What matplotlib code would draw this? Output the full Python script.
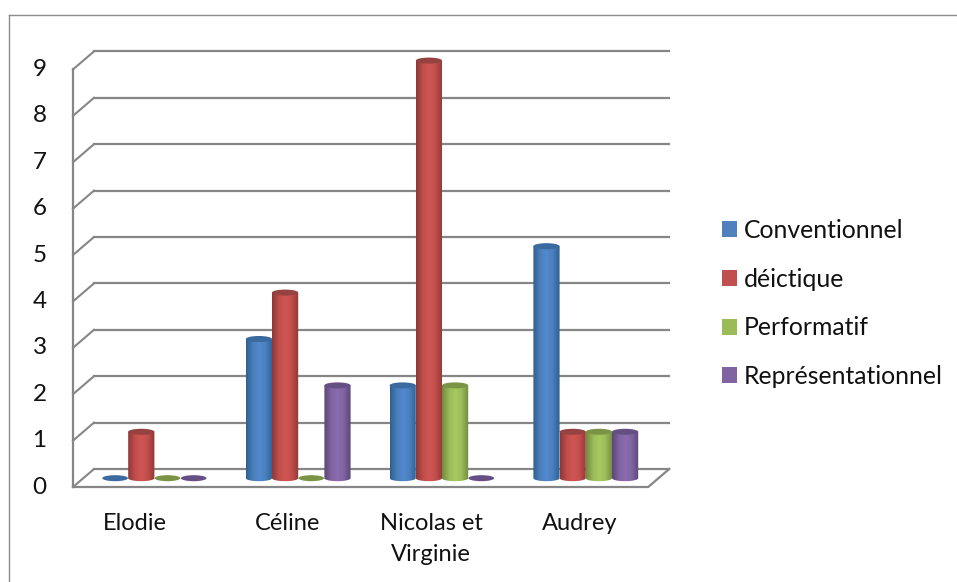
import numpy as np
import matplotlib
matplotlib.use("Agg")
import matplotlib.pyplot as plt
from matplotlib.colors import LinearSegmentedColormap
from matplotlib.lines import Line2D
from matplotlib.patches import Ellipse, PathPatch, Rectangle
from matplotlib.path import Path

plt.rcParams['font.family'] = ['Lato', 'DejaVu Sans']

categories = ["Elodie", "Céline", "Nicolas et\nVirginie", "Audrey"]
series_names = ["Conventionnel", "déictique", "Performatif", "Représentationnel"]
conventionnel = [0, 3, 2, 5]
deictique = [1, 4, 9, 1]
performatif = [0, 0, 2, 1]
representationnel = [0, 2, 0, 1]
series_values = [conventionnel, deictique, performatif, representationnel]
y_ticks = list(range(0, 10))

# colours: legend, dark edge of cylinder, light middle, top ellipse
legend_colors = ["#4F81BD", "#C0504D", "#9BBB59", "#8064A2"]
edge_colors = ["#2F5F8F", "#8C3836", "#71893F", "#5C4776"]
mid_colors = ["#5288CC", "#D05552", "#A6C960", "#8A6CAF"]
top_colors = ["#3A6A9E", "#964240", "#7A9445", "#664F85"]

W, H = 957, 582
GRID = "#868686"
TXT = "#111111"

fig = plt.figure(figsize=(W / 100, H / 100), dpi=100)

# chart frame
fig.add_artist(Line2D([9 / W, 9 / W], [0, 1 - 15 / H], color="#8c8c8c", lw=1))
fig.add_artist(Line2D([9 / W, 1], [1 - 15 / H, 1 - 15 / H], color="#8c8c8c", lw=1))

# plot area: one value = 46.4 px, one category = 143.8 px
px_y = 46.4
px_x = 143.8
depth_x = 21 / px_x
depth_y = 18 / px_y
ymax = 9.6
xmax = 4 + depth_x
ax = fig.add_axes([73 / W, 1 - 487 / H, xmax * px_x / W, ymax * px_y / H])
ax.set_xlim(0, xmax)
ax.set_ylim(0, ymax)
for s in ax.spines.values():
    s.set_visible(False)
ax.patch.set_visible(False)

# walls and grid in fake 3d
for v in y_ticks:
    ax.plot([0, depth_x], [v, v + depth_y], color=GRID, lw=1.5, clip_on=False, zorder=1)
    ax.plot([depth_x, xmax], [v + depth_y, v + depth_y], color=GRID, lw=1.6, clip_on=False, zorder=1)
ax.plot([0, 0], [0, 9], color=GRID, lw=1.6, clip_on=False, zorder=1)
ax.plot([0, 4, xmax], [0, 0, depth_y], color=GRID, lw=1.6, clip_on=False, zorder=1)

# cylinders
bar_w = 26.2 / px_x
group_shift = 0.566
base = 0.19
ell_h = 6 / px_y
ramp = np.interp(np.linspace(0, 1, 256), [0, 0.28, 0.5, 0.72, 1], [0, 0.8, 1, 0.8, 0])[None, :]

for k, vals in enumerate(series_values):
    cmap = LinearSegmentedColormap.from_list("c", [edge_colors[k], mid_colors[k]])
    for i, v in enumerate(vals):
        cx = i + group_shift + (k - 1.5) * bar_w
        z = 3 + k
        if v == 0:
            ax.add_patch(Ellipse((cx, base), bar_w * 0.98, ell_h, fc=top_colors[k], ec="none", zorder=z))
            continue
        t = np.linspace(np.pi, 2 * np.pi, 30)
        xs = cx + bar_w / 2 * np.cos(t)
        low = base + ell_h / 2 * np.sin(t)
        verts = list(zip(xs, low)) + [(cx + bar_w / 2, base + v), (cx - bar_w / 2, base + v), (xs[0], low[0])]
        outline = PathPatch(Path(verts), transform=ax.transData, fc="none", ec="none")
        ax.add_patch(outline)
        im = ax.imshow(ramp, cmap=cmap, aspect="auto", zorder=z,
                       extent=[cx - bar_w / 2, cx + bar_w / 2, base - ell_h, base + v + ell_h])
        im.set_clip_path(outline)
        ax.add_patch(Ellipse((cx, base + v), bar_w, ell_h, fc=top_colors[k], ec="none", zorder=z + 0.5))
ax.set_xlim(0, xmax)
ax.set_ylim(0, ymax)

# axis labels
ax.set_yticks(y_ticks)
ax.set_yticklabels([str(v) for v in y_ticks], fontsize=17.5, color=TXT)
ax.tick_params(axis="y", length=0, pad=19)
for lab in ax.get_yticklabels():
    lab.set_verticalalignment("center")
ax.set_xticks([0.43, 1.49, 2.49, 3.52])
ax.set_xticklabels(categories, fontsize=17, color=TXT, linespacing=1.55)
ax.tick_params(axis="x", length=0, pad=19)

# legend
handles = [Rectangle((0, 0), 1, 1, fc=c, ec="none") for c in legend_colors]
fig.legend(handles, series_names, loc="upper left", bbox_to_anchor=(722 / W, 1 - 219 / H),
           frameon=False, fontsize=17.8, labelcolor=TXT, handlelength=0.62, handleheight=0.62,
           handletextpad=0.26, labelspacing=1.04, borderpad=0, borderaxespad=0)

fig.savefig("out.png", dpi=100)
